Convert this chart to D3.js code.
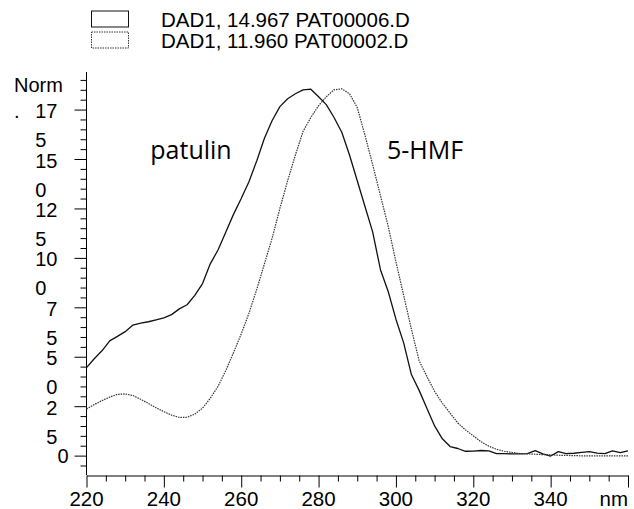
<!DOCTYPE html>
<html>
<head>
<meta charset="utf-8">
<script src="https://cdn.jsdelivr.net/npm/d3@7/dist/d3.min.js"></script>
<style>
  html, body { margin: 0; padding: 0; background: #fff; }
  svg { display: block; }
</style>
</head>
<body>
<svg id="chart" width="634" height="509"></svg>
<script>
// ---------------- data ----------------
const wavelengths = [220,222,224,226,228,230,232,234,236,238,240,242,244,246,248,250,252,254,256,258,
  260,262,264,266,268,270,272,274,276,278,280,282,284,286,288,290,292,294,296,298,
  300,302,304,306,308,310,312,314,316,318,320,322,324,326,328,330,332,334,336,338,
  340,342,344,346,348,350,352,354,356,358,360];

// DAD1, 14.967 PAT00006.D (patulin, solid)
const patulin = [44.5,49,53,58,60.3,62.7,66,67,67.7,68.7,69.7,71.3,74.2,76.3,81,87,97,104,113,122,
  130,138.5,149,160.5,169.5,176.5,180.5,183,185,185.3,181.5,177.5,171,163.5,152,139,126,113,94,83,
  69,57,41,33,24,15,8.5,4.6,3.6,2.2,2.3,2.6,2.4,1.0,1.0,0.9,0.9,1.0,2.5,0.9,
  -0.2,2.0,1.0,1.2,1.6,2.0,1.3,1.0,2.4,1.5,2.4];

// DAD1, 11.960 PAT00002.D (5-HMF, dotted)
const hmf = [23.6,25.8,27.8,29.6,31.0,31.2,30.4,28.5,26.4,24.2,22.2,20.5,19.3,19.4,21.0,24.0,29.0,35.0,43.0,52.0,
  61.5,72,84,97,110,125,139,152,164,171,177,181.5,185,185.5,183,176,162,147,131.5,116,
  98,81,64,48,40,32.5,26.5,21.5,16.5,13,10,7,4.8,3.2,2.2,1.6,1.1,0.9,0.7,0.5,
  0.4,0.2,0.1,0,-0.1,-0.1,-0.1,-0.1,-0.1,-0.1,-0.1];

const seriesNames = ["DAD1, 14.967 PAT00006.D", "DAD1, 11.960 PAT00002.D"];
const yTickValues = [0,25,50,75,100,125,150,175];
const yTickLabels = ["0","25","50","75","100","125","150","175"];
const xTickValues = [220,240,260,280,300,320,340,360];
const xTickLabels = ["220","240","260","280","300","320","340","nm"];
const yAxisTitle = ["Norm", "."];
const annotations = [{text: "patulin", wl: 236.5, v: 150}, {text: "5-HMF", wl: 297.7, v: 150}];

// ---------------- drawing ----------------
const svg = d3.select("#chart");
const x = d3.scaleLinear().domain([220, 360]).range([86.5, 628]);
const y = d3.scaleLinear().domain([-9.8, 194]).range([475, 72]);

const minorY = d3.range(-5, 191, 5).filter(v => v % 25 !== 0);
const minorX = d3.range(220, 361, 5).filter(v => v % 20 !== 0);

// Y axis
const gy = svg.append("g").attr("transform", "translate(86.5,0)");
gy.call(d3.axisLeft(y).tickValues(minorY).tickSize(6).tickSizeOuter(0).tickFormat(""));
gy.append("g").call(d3.axisLeft(y).tickValues(yTickValues).tickSize(12).tickSizeOuter(0).tickFormat(""))
  .select(".domain").remove();
gy.selectAll(".domain").attr("d", `M0,${y.range()[0]}V${y.range()[1]}`);

// X axis
const gx = svg.append("g").attr("transform", "translate(0,475.5)");
gx.call(d3.axisBottom(x).tickValues(minorX).tickSize(6).tickSizeOuter(0).tickFormat(""));
gx.append("g").call(d3.axisBottom(x).tickValues(xTickValues).tickSize(12).tickSizeOuter(0).tickFormat(""))
  .select(".domain").remove();

svg.selectAll(".tick line, .domain").attr("stroke", "#000").attr("stroke-width", 1);

// X labels
svg.append("g").selectAll("text").data(xTickValues).join("text")
  .attr("x", (d, i) => i === xTickValues.length - 1 ? 628 : x(d))
  .attr("y", 506)
  .attr("text-anchor", (d, i) => i === xTickValues.length - 1 ? "end" : "middle")
  .attr("font-family", "Liberation Sans, Arial, sans-serif")
  .attr("font-size", 20.5)
  .attr("fill", "#000")
  .text((d, i) => xTickLabels[i]);

// Y labels (wrapped like the original: last char on a second line)
const yl = svg.append("g")
  .attr("font-family", "Liberation Sans, Arial, sans-serif")
  .attr("font-size", 20).attr("fill", "#000");
yTickValues.forEach((v, i) => {
  const lab = yTickLabels[i];
  const t = yl.append("text").attr("y", y(v) + 8.5).text(lab);
  const w = t.node().getComputedTextLength();
  const x0 = 68.5 - w;
  if (lab.length > 1) {
    t.text(null);
    t.attr("y", null);
    t.append("tspan").attr("x", x0).attr("y", y(v) + 8.5).text(lab.slice(0, -1));
    t.append("tspan").attr("x", x0).attr("y", y(v) + 8.5 + 29).text(lab.slice(-1));
  } else {
    t.attr("x", x0).attr("y", y(v) + 7);
  }
});
// Axis title
yl.append("text").attr("x", 14).attr("y", 92).text(yAxisTitle[0]);
yl.append("text").attr("x", 14).attr("y", 118).text(yAxisTitle[1]);

// Curves
const line = d3.line().x((d, i) => x(wavelengths[i])).y(d => y(d));
svg.append("path").datum(patulin)
  .attr("d", line).attr("fill", "none")
  .attr("stroke", "#111").attr("stroke-width", 1.3).attr("stroke-linejoin", "round");
svg.append("path").datum(hmf)
  .attr("d", line).attr("fill", "none")
  .attr("stroke", "#333").attr("stroke-width", 1.2).attr("stroke-dasharray", "1.5 1");

// Annotations
svg.append("g").selectAll("text").data(annotations).join("text")
  .attr("x", d => x(d.wl)).attr("y", d => y(d.v))
  .attr("font-family", "Open Sans, sans-serif").attr("font-size", 25).attr("fill", "#000")
  .text(d => d.text);

// Legend
const lg = svg.append("g");
seriesNames.forEach((name, i) => {
  const yy = 10.5 + i * 21;
  lg.append("rect").attr("x", 91.5).attr("y", yy + 0.5).attr("width", 37).attr("height", 16)
    .attr("fill", "none").attr("stroke", i === 0 ? "#111" : "#333").attr("stroke-width", 1)
    .attr("stroke-dasharray", i === 0 ? null : "1.5 1");
  lg.append("text").attr("x", 161).attr("y", yy + 16.5)
    .attr("font-family", "Liberation Sans, Arial, sans-serif").attr("font-size", 20.5).attr("fill", "#000")
    .text(name);
});
</script>
</body>
</html>
